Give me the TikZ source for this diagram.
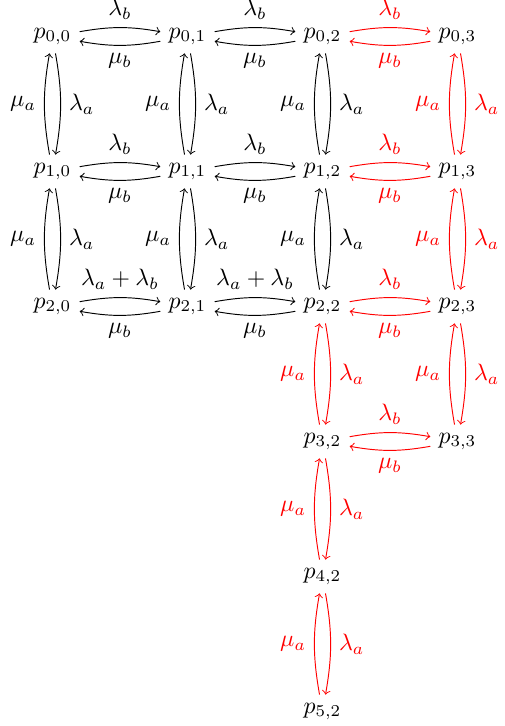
\documentclass[tikz,border=0pt]{standalone}
\newcommand\hpairx[4]{%
  \draw[->,#1] (#2) to[bend left=10] node[above]{$#4$} (#3);
  \draw[->,#1] (#3) to[bend left=10] node[below]{$\mu_b$} (#2);}
\newcommand\vpairx[3]{%
  \draw[->,#1] (#2) to[bend left=10] node[right]{$\lambda_a$} (#3);
  \draw[->,#1] (#3) to[bend left=10] node[left]{$\mu_a$} (#2);}
\begin{document}
\begin{tikzpicture}[x=0.4214pt,y=-0.4214pt]
\useasboundingbox (0,0) rectangle (504,726);
\node (p00) at (52.5,36.5) {$p_{0,0}$};
\node (p01) at (187.5,36.5) {$p_{0,1}$};
\node (p02) at (322.5,36.5) {$p_{0,2}$};
\node (p03) at (457.5,36.5) {$p_{0,3}$};
\node (p10) at (52.5,171.5) {$p_{1,0}$};
\node (p11) at (187.5,171.5) {$p_{1,1}$};
\node (p12) at (322.5,171.5) {$p_{1,2}$};
\node (p13) at (457.5,171.5) {$p_{1,3}$};
\node (p20) at (52.5,306.5) {$p_{2,0}$};
\node (p21) at (187.5,306.5) {$p_{2,1}$};
\node (p22) at (322.5,306.5) {$p_{2,2}$};
\node (p23) at (457.5,306.5) {$p_{2,3}$};
\node (p32) at (322.5,441.5) {$p_{3,2}$};
\node (p33) at (457.5,441.5) {$p_{3,3}$};
\node (p42) at (322.5,576.5) {$p_{4,2}$};
\node (p52) at (322.5,711.5) {$p_{5,2}$};
% horizontal
\hpairx{black}{p00}{p01}{\lambda_b}
\hpairx{black}{p01}{p02}{\lambda_b}
\hpairx{red}{p02}{p03}{\lambda_b}
\hpairx{black}{p10}{p11}{\lambda_b}
\hpairx{black}{p11}{p12}{\lambda_b}
\hpairx{red}{p12}{p13}{\lambda_b}
\hpairx{black}{p20}{p21}{\lambda_a+\lambda_b}
\hpairx{black}{p21}{p22}{\lambda_a+\lambda_b}
\hpairx{red}{p22}{p23}{\lambda_b}
\hpairx{red}{p32}{p33}{\lambda_b}
% vertical
\vpairx{black}{p00}{p10}
\vpairx{black}{p10}{p20}
\vpairx{black}{p01}{p11}
\vpairx{black}{p11}{p21}
\vpairx{black}{p02}{p12}
\vpairx{black}{p12}{p22}
\vpairx{red}{p22}{p32}
\vpairx{red}{p32}{p42}
\vpairx{red}{p42}{p52}
\vpairx{red}{p03}{p13}
\vpairx{red}{p13}{p23}
\vpairx{red}{p23}{p33}
\end{tikzpicture}
\end{document}
